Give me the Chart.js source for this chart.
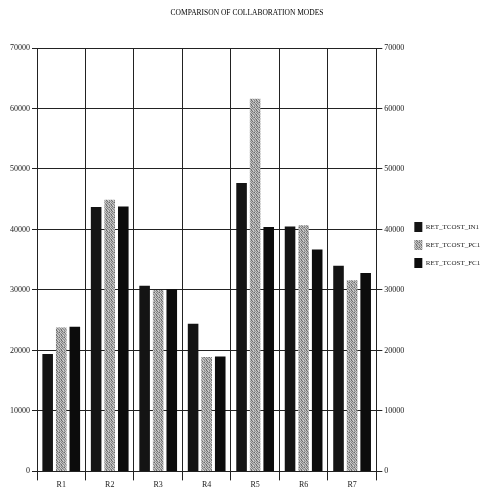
<!DOCTYPE html>
<html>
<head>
<meta charset="utf-8">
<script src="https://cdn.jsdelivr.net/npm/chart.js@4"></script>
<style>
  body { margin: 0; background: #fff; }
  canvas { display: block; }
</style>
</head>
<body>
<canvas id="myChart" width="488" height="492"></canvas>
<script>
// data
var categories = ['R1', 'R2', 'R3', 'R4', 'R5', 'R6', 'R7']
var in1Values = [19400, 43700, 30700, 24400, 47700, 40500, 34000]
var pc1Values = [23800, 44900, 30000, 18900, 61600, 40700, 31600]
var fc1Values = [23900, 43800, 30100, 19000, 40400, 36700, 32800]
var seriesNames = ['RET_TCOST_IN1', 'RET_TCOST_PC1', 'RET_TCOST_FC1']

var serif = 'Liberation Serif'
var ink = '#1a1a1a'

// grey dither for the PC1 bars, like the scanned hatch
function makeSpeckle() {
    var c = document.createElement('canvas')
    c.width = 5
    c.height = 5
    var ctx = c.getContext('2d')
    var shades = ['#c8c8c8', '#6e6e6e', '#b0b0b0', '#d0d0d0', '#858585',
                  '#9a9a9a', '#bcbcbc', '#707070', '#c4c4c4', '#a8a8a8',
                  '#d4d4d4', '#808080', '#bababa', '#949494', '#6a6a6a',
                  '#8c8c8c', '#cccccc', '#7e7e7e', '#b6b6b6', '#c0c0c0',
                  '#a0a0a0', '#787878', '#cacaca', '#8a8a8a', '#b2b2b2']
    for (let i = 0; i < 25; i++) {
        ctx.fillStyle = shades[i]
        ctx.fillRect(i % 5, Math.floor(i / 5), 1, 1)
    }
    return ctx.createPattern(c, 'repeat')
}

var speckle = makeSpeckle()

function plainNumber(value) {
    return String(value)
}

new Chart('myChart', {
    type: 'bar',
    data: {
        labels: categories,
        datasets: [{
            label: seriesNames[0],
            data: in1Values,
            backgroundColor: '#141414',
            categoryPercentage: 0.84,
            barPercentage: 0.78
        }, {
            label: seriesNames[1],
            data: pc1Values,
            backgroundColor: speckle,
            categoryPercentage: 0.84,
            barPercentage: 0.78
        }, {
            label: seriesNames[2],
            data: fc1Values,
            backgroundColor: '#0c0c0c',
            categoryPercentage: 0.84,
            barPercentage: 0.78
        }]
    },
    options: {
        responsive: false,
        animation: false,
        devicePixelRatio: 1,
        layout: { padding: { left: 8, right: 2, top: 0, bottom: 2 } },
        plugins: {
            title: {
                display: true,
                text: 'COMPARISON OF COLLABORATION MODES',
                color: '#000',
                font: { family: serif, size: 7.5, weight: 'normal' },
                padding: { top: 9, bottom: 30 }
            },
            legend: {
                position: 'right',
                labels: {
                    color: ink,
                    font: { family: serif, size: 7 },
                    boxWidth: 8,
                    boxHeight: 10,
                    padding: 8
                }
            },
            tooltip: { enabled: false }
        },
        scales: {
            x: {
                grid: { color: '#222', lineWidth: 1, offset: true, drawTicks: true, tickLength: 9 },
                border: { color: '#222' },
                ticks: { color: ink, font: { family: serif, size: 8 }, padding: 0 }
            },
            y: {
                min: 0,
                max: 70000,
                ticks: { stepSize: 10000, color: ink, font: { family: serif, size: 8 }, padding: 2, callback: plainNumber },
                grid: { color: '#222', lineWidth: 1, tickLength: 5 },
                border: { color: '#222' }
            },
            y1: {
                position: 'right',
                min: 0,
                max: 70000,
                ticks: { stepSize: 10000, color: ink, font: { family: serif, size: 8 }, padding: 2, callback: plainNumber },
                grid: { drawOnChartArea: false, color: '#222', tickLength: 6 },
                border: { color: '#222' }
            }
        }
    }
})
</script>
</body>
</html>
